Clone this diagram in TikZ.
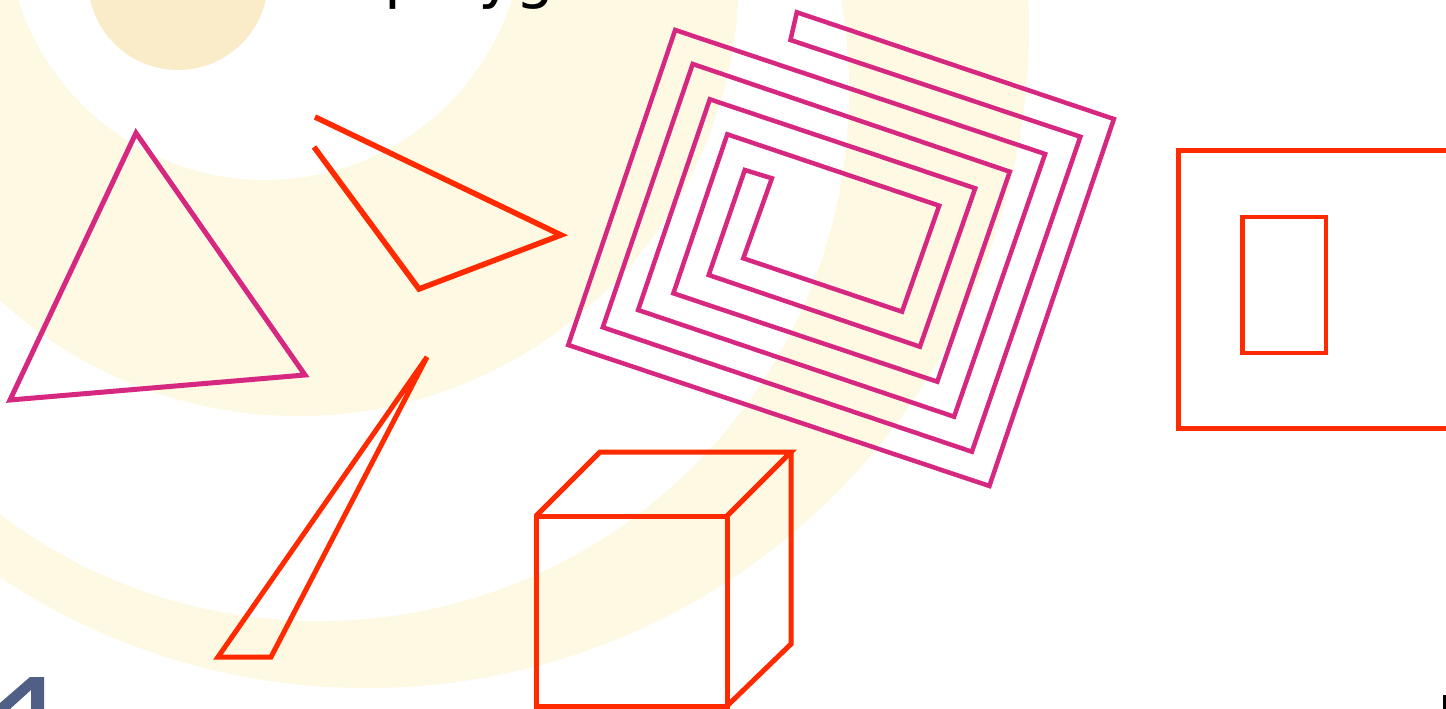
\documentclass[tikz,border=0pt]{standalone}
\usepackage{fontspec}
\newfontfamily\titlefont{DejaVu Sans}
\definecolor{magentaline}{RGB}{214,40,128}
\definecolor{redline}{RGB}{255,42,0}
\definecolor{paleband}{RGB}{254,249,226}
\definecolor{beigedisc}{RGB}{250,236,200}
\definecolor{logoblue}{RGB}{79,95,134}
\begin{document}
\begin{tikzpicture}[x=1pt,y=-1pt,
  magline/.style={draw=magentaline,line width=5pt,line join=miter},
  redln/.style={draw=redline,line width=5pt,line join=miter},
  band/.style={fill=paleband},
  gap/.style={fill=white}]
\useasboundingbox (0,0) rectangle (1446,709);
\clip (0,0) rectangle (1446,709);
% background
\fill[white] (0,0) rectangle (1446,709);
\fill[band] (367,26) circle[radius=662pt];
\fill[gap] (319,91) circle[radius=530pt];
\fill[band] (298,-25) circle[radius=441pt];
\fill[gap] (265,-79) circle[radius=259pt];
\fill[beigedisc] (178,-20) circle[radius=90pt];
% title (only descenders visible)
\node[anchor=base west,inner sep=0pt,font={\titlefont\fontsize{62pt}{62pt}\selectfont}] (title) at (384,-3) {polygons};
% triangle
\draw[magline] (136,133) -- (305,375) -- (10,400) -- cycle;
% open polyline
\draw[redln,line width=5.5pt] (315,117) -- (561,235) -- (419,289) -- (314,147);
% thin triangle
\draw[redln] (427,357) -- (218,657) -- (271,657) -- cycle;
% spiral polygon
\draw[magline,line width=4.5pt] (796.8,12.3) -- (1113.9,119) -- (989.4,486) -- (568.2,345) -- (675.2,30)
  -- (1045.1,154) -- (954.1,416.7) -- (638.1,310) -- (709.8,99.3) -- (975.2,188.3)
  -- (919.9,346.7) -- (708.7,275) -- (744.8,170) -- (771.9,178.3) -- (743.3,258.3)
  -- (902,311.7) -- (939.2,205.7) -- (727.3,134.3) -- (673.4,293.3) -- (937.3,381.7)
  -- (1009.8,171.7) -- (692.7,64) -- (602.8,327.3) -- (971.9,451.7) -- (1080.4,136.7)
  -- (790.5,40) -- cycle;
% cube
\draw[redln] (536,516) rectangle (727,706);
\draw[redln] (536,516) -- (600,452) -- (791,452) -- (727,516);
\draw[redln] (791,452) -- (791,644) -- (727,706);
% rectangles
\draw[redln] (1178.5,150) rectangle (1460,428);
\draw[redln,line width=4.5pt] (1242.5,217) rectangle (1326,353);
% logo fragment and corner mark
\fill[logoblue] (0,709) -- (0,703) -- (30,677) -- (44,677) -- (44,709) -- (31,709) -- (31,690) -- (10,709) -- cycle;
\fill[black] (1443,695) rectangle (1446,709);
\end{tikzpicture}
\end{document}
